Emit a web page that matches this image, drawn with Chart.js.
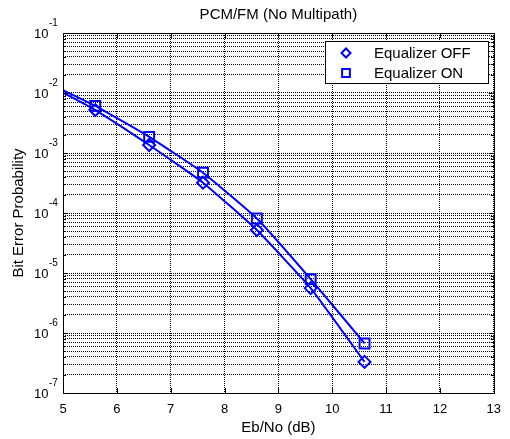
<!DOCTYPE html>
<html>
<head>
<meta charset="utf-8">
<script src="https://cdn.jsdelivr.net/npm/chart.js@4.4.1/dist/chart.umd.min.js"></script>
<style>
  html, body { margin: 0; padding: 0; background: #fff; }
  #div_canva { width: 510px; height: 439px; }
</style>
</head>
<body>
<div id="div_canva"><canvas id="myChart"></canvas></div>
<script>
// measured points (Eb/No in dB)
const ebno = [5.6, 6.6, 7.6, 8.6, 9.6, 10.6];
const berOff = [5.2e-3, 1.36e-3, 3.2e-4, 5.2e-5, 5.6e-6, 3.3e-7];
const berOn = [6.1e-3, 1.86e-3, 4.7e-4, 8.1e-5, 7.9e-6, 6.7e-7];

// where the fitted curves begin, at the left edge
const curveStartX = 5;
const curveStartOff = 1.01e-2;
const curveStartOn = 1.12e-2;

const xTicks = [5, 6, 7, 8, 9, 10, 11, 12, 13];
const yDecades = [-7, -6, -5, -4, -3, -2, -1];
const yMinor = [2, 3, 4, 5, 6, 7, 8, 9];

const azul = 'rgb(0, 0, 255)';

let yTickValues = [];
yDecades.forEach((e, i) => {
    yTickValues.push(Math.pow(10, e));
    if (i < yDecades.length - 1) {
        yMinor.forEach(m => yTickValues.push(m * Math.pow(10, e)));
    }
});

function montarSerie(x0, y0, ys) {
    return [{ x: x0, y: y0 }].concat(ebno.map((x, i) => ({ x: x, y: ys[i] })));
}

// box, inward ticks, exponent labels and legend, matlab style
const matlabAxes = {
    id: 'matlabAxes',
    afterDatasetsDraw(chart) {
        const ctx = chart.ctx;
        const a = chart.chartArea;
        const sx = chart.scales.x;
        const sy = chart.scales.y;
        ctx.save();
        ctx.strokeStyle = '#000';
        ctx.lineWidth = 1;
        ctx.beginPath();
        yTickValues.forEach(v => {
            const y = Math.round(sy.getPixelForValue(v)) + 0.5;
            const len = yDecades.some(e => Math.abs(Math.pow(10, e) - v) < v * 1e-6) ? 5 : 3;
            ctx.moveTo(a.left, y); ctx.lineTo(a.left + len, y);
            ctx.moveTo(a.right, y); ctx.lineTo(a.right - len, y);
        });
        xTicks.forEach(v => {
            const x = Math.round(sx.getPixelForValue(v)) + 0.5;
            ctx.moveTo(x, a.bottom); ctx.lineTo(x, a.bottom - 5);
            ctx.moveTo(x, a.top); ctx.lineTo(x, a.top + 5);
        });
        ctx.stroke();
        ctx.strokeRect(Math.round(a.left) + 0.5, Math.round(a.top) + 0.5,
            Math.round(a.right - a.left), Math.round(a.bottom - a.top));
        ctx.restore();
    },
    afterDraw(chart) {
        const ctx = chart.ctx;
        const sy = chart.scales.y;
        ctx.save();
        ctx.fillStyle = '#000';
        yDecades.forEach(e => {
            const y = sy.getPixelForValue(Math.pow(10, e));
            ctx.font = '13px "Liberation Sans", Arial, sans-serif';
            ctx.textAlign = 'right';
            ctx.textBaseline = 'middle';
            ctx.fillText('10', 48.5, y + 1);
            ctx.font = '10px "Liberation Sans", Arial, sans-serif';
            ctx.textAlign = 'left';
            ctx.fillText(String(e), 49, y - 9.5);
        });

        // legend
        const lx = 325.5, ly = 41.5, lw = 163, lh = 42;
        ctx.fillStyle = '#fff';
        ctx.fillRect(lx, ly, lw, lh);
        ctx.strokeStyle = '#000';
        ctx.lineWidth = 1;
        ctx.strokeRect(lx, ly, lw, lh);
        chart.data.datasets.forEach((ds, i) => {
            const cy = 53 + i * 20;
            ctx.strokeStyle = ds.borderColor;
            ctx.fillStyle = '#fff';
            ctx.lineWidth = 2;
            Chart.helpers.drawPoint(ctx, {
                pointStyle: ds.pointStyle,
                radius: ds.legendRadius,
                borderWidth: 2,
                rotation: 0
            }, 346, cy);
            ctx.fillStyle = '#000';
            ctx.font = '15px "Liberation Sans", Arial, sans-serif';
            ctx.textAlign = 'left';
            ctx.textBaseline = 'middle';
            ctx.fillText(ds.label, 374, cy + 0.5);
        });
        ctx.restore();
    }
};

Chart.defaults.font.family = '"Liberation Sans", Arial, Helvetica, sans-serif';
Chart.defaults.color = '#000';

const ctx = document.getElementById('myChart');

new Chart(ctx, {
    type: 'line',
    data: {
        datasets: [
            {
                label: 'Equalizer OFF',
                data: montarSerie(curveStartX, curveStartOff, berOff),
                borderColor: azul,
                borderWidth: 2,
                backgroundColor: 'rgba(0,0,0,0)',
                pointStyle: 'rectRot',
                pointRadius: c => c.dataIndex === 0 ? 0 : 6,
                pointBorderWidth: 2,
                pointBorderColor: azul,
                pointBackgroundColor: 'rgba(0,0,0,0)',
                tension: 0.12,
                legendRadius: 4.5
            },
            {
                label: 'Equalizer ON',
                data: montarSerie(curveStartX, curveStartOn, berOn),
                borderColor: azul,
                borderWidth: 2,
                backgroundColor: 'rgba(0,0,0,0)',
                pointStyle: 'rect',
                pointRadius: c => c.dataIndex === 0 ? 0 : 7,
                pointBorderWidth: 2,
                pointBorderColor: azul,
                pointBackgroundColor: 'rgba(0,0,0,0)',
                tension: 0.12,
                legendRadius: 5.5
            }
        ]
    },
    options: {
        responsive: true,
        maintainAspectRatio: false,
        animation: false,
        events: [],
        layout: {
            padding: { left: 0, right: 12, top: 0, bottom: 0 }
        },
        scales: {
            x: {
                type: 'linear',
                min: 5,
                max: 13,
                afterBuildTicks: scale => {
                    scale.ticks = xTicks.map(v => ({ value: v }));
                },
                afterFit: scale => { scale.height = 46; },
                ticks: {
                    font: { size: 13 },
                    padding: 9,
                    maxRotation: 0,
                    autoSkip: false
                },
                grid: {
                    color: '#000',
                    lineWidth: 1,
                    drawTicks: false
                },
                border: { display: false, dash: [1, 1] },
                title: {
                    display: true,
                    text: 'Eb/No (dB)',
                    font: { size: 15 },
                    padding: { top: 0, bottom: 2 }
                }
            },
            y: {
                type: 'logarithmic',
                min: 1e-7,
                max: 1e-1,
                afterBuildTicks: scale => {
                    scale.ticks = yTickValues.map(v => ({ value: v }));
                },
                afterFit: scale => { scale.width = 63; },
                ticks: { display: false },
                grid: {
                    color: '#000',
                    lineWidth: 1,
                    drawTicks: false
                },
                border: { display: false, dash: [1, 1] },
                title: {
                    display: true,
                    text: 'Bit Error Probability',
                    font: { size: 15 },
                    padding: { top: 10, bottom: 0 }
                }
            }
        },
        plugins: {
            legend: { display: false },
            tooltip: { enabled: false },
            title: {
                display: true,
                text: 'PCM/FM (No Multipath)',
                fullSize: false,
                font: { size: 15, weight: 'normal' },
                color: '#000',
                padding: { top: 6, bottom: 9 }
            }
        }
    },
    plugins: [matlabAxes]
});
</script>
</body>
</html>
